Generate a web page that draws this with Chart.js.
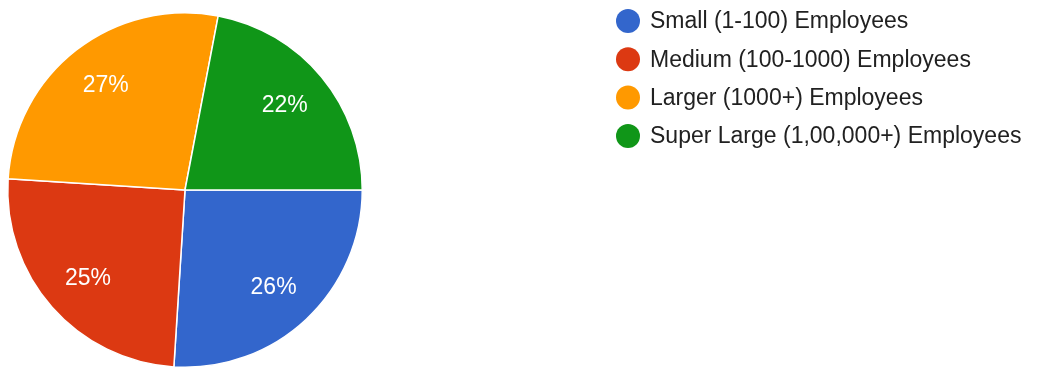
<!DOCTYPE html>
<html>
<head>
<meta charset="utf-8">
<script src="https://cdn.jsdelivr.net/npm/chart.js@4.4.1/dist/chart.umd.min.js"></script>
<style>
  html, body { margin: 0; padding: 0; background: #ffffff; }
  #wrap { position: relative; width: 1043px; height: 372px; }
</style>
</head>
<body>
<div id="wrap"><canvas id="pie"></canvas></div>
<script>
// Company size breakdown of respondents
const categories = [
  'Small (1-100) Employees',
  'Medium (100-1000) Employees',
  'Larger (1000+) Employees',
  'Super Large (1,00,000+) Employees'
];
const shares = [26, 25, 27, 22];
const colors = ['#3366cc', '#dc3912', '#ff9900', '#109618'];

const FONT = '"Liberation Sans", Arial, sans-serif';

// Percent labels drawn inside each slice
const sliceLabels = {
  id: 'sliceLabels',
  afterDatasetsDraw(chart) {
    const { ctx } = chart;
    const meta = chart.getDatasetMeta(0);
    const total = shares.reduce((a, b) => a + b, 0);
    ctx.save();
    ctx.fillStyle = '#ffffff';
    ctx.font = '23px ' + FONT;
    ctx.textAlign = 'center';
    ctx.textBaseline = 'middle';
    meta.data.forEach((arc, i) => {
      const p = arc.getProps(['x', 'y', 'startAngle', 'endAngle', 'outerRadius'], true);
      const mid = (p.startAngle + p.endAngle) / 2;
      const r = p.outerRadius * 0.73;
      const pct = Math.round(shares[i] / total * 100) + '%';
      ctx.fillText(pct, p.x + Math.cos(mid) * r, p.y + Math.sin(mid) * r * 1.03 + 1);
    });
    ctx.restore();
  }
};

// Legend on the right: coloured dot followed by the category name
const sideLegend = {
  id: 'sideLegend',
  afterDraw(chart) {
    const { ctx } = chart;
    const x0 = 628, y0 = 21, step = 38.3;
    ctx.save();
    ctx.font = '23px ' + FONT;
    ctx.textBaseline = 'middle';
    ctx.textAlign = 'left';
    categories.forEach((name, i) => {
      const y = y0 + i * step;
      ctx.beginPath();
      ctx.arc(x0, y, 12, 0, Math.PI * 2);
      ctx.fillStyle = colors[i];
      ctx.fill();
      ctx.fillStyle = '#212121';
      ctx.fillText(name, x0 + 22, y + 1);
    });
    ctx.restore();
  }
};

new Chart(document.getElementById('pie'), {
  type: 'pie',
  data: {
    labels: categories,
    datasets: [{
      data: shares,
      backgroundColor: colors,
      borderColor: '#ffffff',
      borderWidth: 1.5
    }]
  },
  options: {
    responsive: true,
    maintainAspectRatio: false,
    animation: false,
    rotation: 90,
    layout: { padding: { left: 7, right: 680, top: 11, bottom: 3 } },
    plugins: {
      legend: { display: false },
      tooltip: { enabled: false }
    }
  },
  plugins: [sliceLabels, sideLegend]
});
</script>
</body>
</html>
